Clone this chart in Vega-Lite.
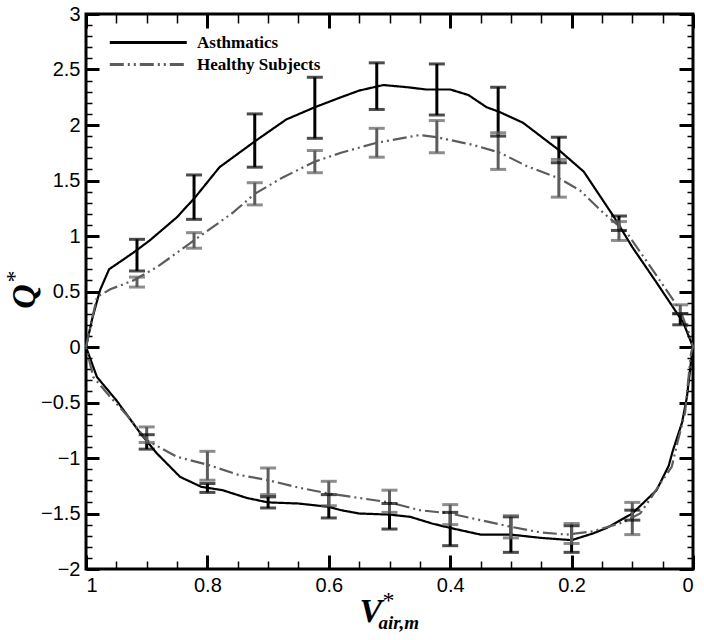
{
  "$schema": "https://vega.github.io/schema/vega-lite/v6.json",
  "autosize": "none",
  "width": 607,
  "height": 555,
  "padding": {"left": 86, "top": 14, "right": 11, "bottom": 71},
  "background": "white",
  "config": {
    "view": {"stroke": "black", "strokeWidth": 3},
    "axis": {"domain": false, "grid": false, "tickColor": "black", "labelColor": "black", "labelFont": "Liberation Sans", "labelFontSize": 20, "labelFontWeight": "normal", "titleColor": "black"}
  },
  "datasets": {
    "curves": [
      {"group": "Asthmatics", "order": 1, "x": 1.0, "y": 0.0},
      {"group": "Asthmatics", "order": 2, "x": 0.99, "y": 0.25},
      {"group": "Asthmatics", "order": 3, "x": 0.977, "y": 0.51},
      {"group": "Asthmatics", "order": 4, "x": 0.962, "y": 0.70},
      {"group": "Asthmatics", "order": 5, "x": 0.922, "y": 0.85},
      {"group": "Asthmatics", "order": 6, "x": 0.895, "y": 0.96},
      {"group": "Asthmatics", "order": 7, "x": 0.85, "y": 1.17},
      {"group": "Asthmatics", "order": 8, "x": 0.82, "y": 1.35},
      {"group": "Asthmatics", "order": 9, "x": 0.78, "y": 1.62},
      {"group": "Asthmatics", "order": 10, "x": 0.72, "y": 1.86},
      {"group": "Asthmatics", "order": 11, "x": 0.67, "y": 2.05},
      {"group": "Asthmatics", "order": 12, "x": 0.623, "y": 2.16},
      {"group": "Asthmatics", "order": 13, "x": 0.58, "y": 2.25},
      {"group": "Asthmatics", "order": 14, "x": 0.55, "y": 2.31},
      {"group": "Asthmatics", "order": 15, "x": 0.51, "y": 2.36},
      {"group": "Asthmatics", "order": 16, "x": 0.47, "y": 2.34},
      {"group": "Asthmatics", "order": 17, "x": 0.44, "y": 2.32},
      {"group": "Asthmatics", "order": 18, "x": 0.40, "y": 2.32},
      {"group": "Asthmatics", "order": 19, "x": 0.37, "y": 2.27},
      {"group": "Asthmatics", "order": 20, "x": 0.34, "y": 2.16},
      {"group": "Asthmatics", "order": 21, "x": 0.32, "y": 2.12},
      {"group": "Asthmatics", "order": 22, "x": 0.28, "y": 2.02},
      {"group": "Asthmatics", "order": 23, "x": 0.22, "y": 1.77},
      {"group": "Asthmatics", "order": 24, "x": 0.18, "y": 1.58},
      {"group": "Asthmatics", "order": 25, "x": 0.13, "y": 1.17},
      {"group": "Asthmatics", "order": 26, "x": 0.10, "y": 0.90},
      {"group": "Asthmatics", "order": 27, "x": 0.06, "y": 0.58},
      {"group": "Asthmatics", "order": 28, "x": 0.016, "y": 0.22},
      {"group": "Asthmatics", "order": 29, "x": 0.0, "y": 0.0},
      {"group": "Asthmatics", "order": 30, "x": 0.003, "y": -0.12},
      {"group": "Asthmatics", "order": 31, "x": 0.01, "y": -0.45},
      {"group": "Asthmatics", "order": 32, "x": 0.018, "y": -0.68},
      {"group": "Asthmatics", "order": 33, "x": 0.033, "y": -0.93},
      {"group": "Asthmatics", "order": 34, "x": 0.04, "y": -1.07},
      {"group": "Asthmatics", "order": 35, "x": 0.06, "y": -1.29},
      {"group": "Asthmatics", "order": 36, "x": 0.10, "y": -1.50},
      {"group": "Asthmatics", "order": 37, "x": 0.142, "y": -1.63},
      {"group": "Asthmatics", "order": 38, "x": 0.165, "y": -1.68},
      {"group": "Asthmatics", "order": 39, "x": 0.20, "y": -1.74},
      {"group": "Asthmatics", "order": 40, "x": 0.25, "y": -1.72},
      {"group": "Asthmatics", "order": 41, "x": 0.30, "y": -1.69},
      {"group": "Asthmatics", "order": 42, "x": 0.35, "y": -1.69},
      {"group": "Asthmatics", "order": 43, "x": 0.40, "y": -1.63},
      {"group": "Asthmatics", "order": 44, "x": 0.43, "y": -1.59},
      {"group": "Asthmatics", "order": 45, "x": 0.466, "y": -1.53},
      {"group": "Asthmatics", "order": 46, "x": 0.50, "y": -1.51},
      {"group": "Asthmatics", "order": 47, "x": 0.55, "y": -1.50},
      {"group": "Asthmatics", "order": 48, "x": 0.58, "y": -1.47},
      {"group": "Asthmatics", "order": 49, "x": 0.60, "y": -1.44},
      {"group": "Asthmatics", "order": 50, "x": 0.65, "y": -1.41},
      {"group": "Asthmatics", "order": 51, "x": 0.70, "y": -1.40},
      {"group": "Asthmatics", "order": 52, "x": 0.735, "y": -1.36},
      {"group": "Asthmatics", "order": 53, "x": 0.775, "y": -1.29},
      {"group": "Asthmatics", "order": 54, "x": 0.81, "y": -1.26},
      {"group": "Asthmatics", "order": 55, "x": 0.845, "y": -1.17},
      {"group": "Asthmatics", "order": 56, "x": 0.883, "y": -0.96},
      {"group": "Asthmatics", "order": 57, "x": 0.91, "y": -0.78},
      {"group": "Asthmatics", "order": 58, "x": 0.95, "y": -0.48},
      {"group": "Asthmatics", "order": 59, "x": 0.982, "y": -0.27},
      {"group": "Asthmatics", "order": 60, "x": 1.0, "y": 0.0},
      {"group": "Healthy Subjects", "order": 1, "x": 1.0, "y": 0.0},
      {"group": "Healthy Subjects", "order": 2, "x": 0.99, "y": 0.25},
      {"group": "Healthy Subjects", "order": 3, "x": 0.982, "y": 0.45},
      {"group": "Healthy Subjects", "order": 4, "x": 0.96, "y": 0.52},
      {"group": "Healthy Subjects", "order": 5, "x": 0.922, "y": 0.60},
      {"group": "Healthy Subjects", "order": 6, "x": 0.883, "y": 0.72},
      {"group": "Healthy Subjects", "order": 7, "x": 0.85, "y": 0.85},
      {"group": "Healthy Subjects", "order": 8, "x": 0.817, "y": 0.98},
      {"group": "Healthy Subjects", "order": 9, "x": 0.758, "y": 1.21},
      {"group": "Healthy Subjects", "order": 10, "x": 0.722, "y": 1.38},
      {"group": "Healthy Subjects", "order": 11, "x": 0.675, "y": 1.53},
      {"group": "Healthy Subjects", "order": 12, "x": 0.623, "y": 1.67},
      {"group": "Healthy Subjects", "order": 13, "x": 0.58, "y": 1.75},
      {"group": "Healthy Subjects", "order": 14, "x": 0.521, "y": 1.84},
      {"group": "Healthy Subjects", "order": 15, "x": 0.45, "y": 1.91},
      {"group": "Healthy Subjects", "order": 16, "x": 0.422, "y": 1.89},
      {"group": "Healthy Subjects", "order": 17, "x": 0.362, "y": 1.82},
      {"group": "Healthy Subjects", "order": 18, "x": 0.318, "y": 1.75},
      {"group": "Healthy Subjects", "order": 19, "x": 0.274, "y": 1.63},
      {"group": "Healthy Subjects", "order": 20, "x": 0.221, "y": 1.52},
      {"group": "Healthy Subjects", "order": 21, "x": 0.186, "y": 1.41},
      {"group": "Healthy Subjects", "order": 22, "x": 0.148, "y": 1.21},
      {"group": "Healthy Subjects", "order": 23, "x": 0.109, "y": 1.03},
      {"group": "Healthy Subjects", "order": 24, "x": 0.066, "y": 0.69},
      {"group": "Healthy Subjects", "order": 25, "x": 0.021, "y": 0.33},
      {"group": "Healthy Subjects", "order": 26, "x": 0.005, "y": 0.10},
      {"group": "Healthy Subjects", "order": 27, "x": 0.0, "y": 0.0},
      {"group": "Healthy Subjects", "order": 28, "x": 0.003, "y": -0.05},
      {"group": "Healthy Subjects", "order": 29, "x": 0.01, "y": -0.41},
      {"group": "Healthy Subjects", "order": 30, "x": 0.013, "y": -0.59},
      {"group": "Healthy Subjects", "order": 31, "x": 0.026, "y": -0.87},
      {"group": "Healthy Subjects", "order": 32, "x": 0.035, "y": -1.08},
      {"group": "Healthy Subjects", "order": 33, "x": 0.054, "y": -1.23},
      {"group": "Healthy Subjects", "order": 34, "x": 0.068, "y": -1.35},
      {"group": "Healthy Subjects", "order": 35, "x": 0.087, "y": -1.50},
      {"group": "Healthy Subjects", "order": 36, "x": 0.115, "y": -1.58},
      {"group": "Healthy Subjects", "order": 37, "x": 0.165, "y": -1.66},
      {"group": "Healthy Subjects", "order": 38, "x": 0.208, "y": -1.69},
      {"group": "Healthy Subjects", "order": 39, "x": 0.252, "y": -1.67},
      {"group": "Healthy Subjects", "order": 40, "x": 0.30, "y": -1.62},
      {"group": "Healthy Subjects", "order": 41, "x": 0.35, "y": -1.56},
      {"group": "Healthy Subjects", "order": 42, "x": 0.40, "y": -1.50},
      {"group": "Healthy Subjects", "order": 43, "x": 0.45, "y": -1.47},
      {"group": "Healthy Subjects", "order": 44, "x": 0.50, "y": -1.40},
      {"group": "Healthy Subjects", "order": 45, "x": 0.55, "y": -1.36},
      {"group": "Healthy Subjects", "order": 46, "x": 0.60, "y": -1.32},
      {"group": "Healthy Subjects", "order": 47, "x": 0.647, "y": -1.27},
      {"group": "Healthy Subjects", "order": 48, "x": 0.70, "y": -1.20},
      {"group": "Healthy Subjects", "order": 49, "x": 0.75, "y": -1.15},
      {"group": "Healthy Subjects", "order": 50, "x": 0.80, "y": -1.06},
      {"group": "Healthy Subjects", "order": 51, "x": 0.85, "y": -0.99},
      {"group": "Healthy Subjects", "order": 52, "x": 0.90, "y": -0.84},
      {"group": "Healthy Subjects", "order": 53, "x": 0.93, "y": -0.63},
      {"group": "Healthy Subjects", "order": 54, "x": 0.96, "y": -0.45},
      {"group": "Healthy Subjects", "order": 55, "x": 0.988, "y": -0.27},
      {"group": "Healthy Subjects", "order": 56, "x": 1.0, "y": 0.0}
    ],
    "bars": [
      {"group": "Asthmatics", "x": 0.916, "lo": 0.685, "hi": 0.97},
      {"group": "Asthmatics", "x": 0.822, "lo": 1.15, "hi": 1.55},
      {"group": "Asthmatics", "x": 0.722, "lo": 1.62, "hi": 2.10},
      {"group": "Asthmatics", "x": 0.623, "lo": 1.88, "hi": 2.43},
      {"group": "Asthmatics", "x": 0.521, "lo": 2.14, "hi": 2.56},
      {"group": "Asthmatics", "x": 0.422, "lo": 2.09, "hi": 2.55},
      {"group": "Asthmatics", "x": 0.321, "lo": 1.90, "hi": 2.34},
      {"group": "Asthmatics", "x": 0.221, "lo": 1.66, "hi": 1.89},
      {"group": "Asthmatics", "x": 0.122, "lo": 1.05, "hi": 1.18},
      {"group": "Asthmatics", "x": 0.021, "lo": 0.20, "hi": 0.30},
      {"group": "Asthmatics", "x": 0.9, "lo": -0.92, "hi": -0.79},
      {"group": "Asthmatics", "x": 0.8, "lo": -1.31, "hi": -1.23},
      {"group": "Asthmatics", "x": 0.7, "lo": -1.45, "hi": -1.35},
      {"group": "Asthmatics", "x": 0.6, "lo": -1.54, "hi": -1.33},
      {"group": "Asthmatics", "x": 0.5, "lo": -1.64, "hi": -1.41},
      {"group": "Asthmatics", "x": 0.4, "lo": -1.79, "hi": -1.49},
      {"group": "Asthmatics", "x": 0.3, "lo": -1.85, "hi": -1.53},
      {"group": "Asthmatics", "x": 0.2, "lo": -1.85, "hi": -1.61},
      {"group": "Asthmatics", "x": 0.1, "lo": -1.56, "hi": -1.47},
      {"group": "Healthy Subjects", "x": 0.916, "lo": 0.54, "hi": 0.63},
      {"group": "Healthy Subjects", "x": 0.822, "lo": 0.89, "hi": 1.03},
      {"group": "Healthy Subjects", "x": 0.722, "lo": 1.28, "hi": 1.48},
      {"group": "Healthy Subjects", "x": 0.623, "lo": 1.57, "hi": 1.77},
      {"group": "Healthy Subjects", "x": 0.521, "lo": 1.71, "hi": 1.97},
      {"group": "Healthy Subjects", "x": 0.422, "lo": 1.75, "hi": 2.04},
      {"group": "Healthy Subjects", "x": 0.321, "lo": 1.60, "hi": 1.93},
      {"group": "Healthy Subjects", "x": 0.221, "lo": 1.35, "hi": 1.69},
      {"group": "Healthy Subjects", "x": 0.122, "lo": 0.96, "hi": 1.13},
      {"group": "Healthy Subjects", "x": 0.021, "lo": 0.30, "hi": 0.38},
      {"group": "Healthy Subjects", "x": 0.9, "lo": -0.86, "hi": -0.72},
      {"group": "Healthy Subjects", "x": 0.8, "lo": -1.20, "hi": -0.94},
      {"group": "Healthy Subjects", "x": 0.7, "lo": -1.33, "hi": -1.09},
      {"group": "Healthy Subjects", "x": 0.6, "lo": -1.43, "hi": -1.21},
      {"group": "Healthy Subjects", "x": 0.5, "lo": -1.49, "hi": -1.29},
      {"group": "Healthy Subjects", "x": 0.4, "lo": -1.60, "hi": -1.42},
      {"group": "Healthy Subjects", "x": 0.3, "lo": -1.72, "hi": -1.52},
      {"group": "Healthy Subjects", "x": 0.2, "lo": -1.77, "hi": -1.59},
      {"group": "Healthy Subjects", "x": 0.1, "lo": -1.69, "hi": -1.40}
    ]
  },
  "resolve": {"axis": {"x": "independent", "y": "independent"}},
  "layer": [
    {
      "data": {"name": "curves"},
      "mark": {"type": "line", "strokeWidth": 2.2, "interpolate": "linear"},
      "encoding": {
        "x": {"field": "x", "type": "quantitative", "scale": {"domain": [0, 1], "reverse": true, "nice": false, "zero": false},
          "axis": {"orient": "bottom", "values": [0, 0.2, 0.4, 0.6, 0.8, 1], "tickSize": -14, "tickWidth": 3, "labelPadding": 20, "format": "~g",
            "title": "V", "titleFont": "Liberation Serif", "titleFontWeight": "bold", "titleFontStyle": "italic", "titleFontSize": 34,
            "titleAlign": "left", "titleBaseline": "alphabetic", "titleAnchor": "start", "titleX": 273, "titleY": 52}},
        "y": {"field": "y", "type": "quantitative", "scale": {"domain": [-2, 3], "nice": false, "zero": false},
          "axis": {"orient": "left", "values": [-2, -1.5, -1, -0.5, 0, 0.5, 1, 1.5, 2, 2.5, 3], "tickSize": -13, "tickWidth": 3, "labelPadding": 19, "format": "~g",
            "title": "Q", "titleFont": "Liberation Serif", "titleFontWeight": "bold", "titleFontStyle": "italic", "titleFontSize": 34,
            "titleAngle": -90, "titleAlign": "center", "titleBaseline": "alphabetic", "titleX": -52, "titleY": 282}},
        "order": {"field": "order", "type": "quantitative"},
        "color": {"field": "group", "type": "nominal", "scale": {"domain": ["Asthmatics", "Healthy Subjects"], "range": ["#000000", "#5c5c5c"]},
          "legend": {"title": null, "orient": "none", "legendX": 22, "legendY": 19, "padding": 0, "symbolType": "M-1,0H9", "symbolSize": 237, "symbolStrokeWidth": 3,
            "labelFont": "Liberation Serif", "labelFontWeight": "bold", "labelFontSize": 17, "labelColor": "black", "labelOffset": 70, "rowPadding": 4}},
        "strokeDash": {"field": "group", "type": "nominal", "scale": {"domain": ["Asthmatics", "Healthy Subjects"], "range": [[1, 0], [14, 4, 2, 4, 2, 4]]},
          "legend": {"title": null}}
      }
    },
    {
      "data": {"name": "bars"},
      "mark": {"type": "rule", "strokeWidth": 3},
      "encoding": {
        "x": {"field": "x", "type": "quantitative", "axis": null},
        "y": {"field": "lo", "type": "quantitative", "axis": null},
        "y2": {"field": "hi"},
        "color": {"field": "group", "type": "nominal", "legend": null}
      }
    },
    {
      "data": {"name": "bars"},
      "mark": {"type": "tick", "orient": "horizontal", "size": 16, "thickness": 3},
      "encoding": {
        "x": {"field": "x", "type": "quantitative", "axis": null},
        "y": {"field": "lo", "type": "quantitative", "axis": null},
        "color": {"field": "group", "type": "nominal", "legend": null}
      }
    },
    {
      "data": {"name": "bars"},
      "mark": {"type": "tick", "orient": "horizontal", "size": 16, "thickness": 3},
      "encoding": {
        "x": {"field": "x", "type": "quantitative", "axis": null},
        "y": {"field": "hi", "type": "quantitative", "axis": null},
        "color": {"field": "group", "type": "nominal", "legend": null}
      }
    },
    {
      "data": {"name": "curves"},
      "mark": {"type": "point", "opacity": 0},
      "encoding": {
        "x": {"field": "x", "type": "quantitative", "axis": {"orient": "top", "values": [0, 0.2, 0.4, 0.6, 0.8, 1], "tickSize": -14, "tickWidth": 3, "labels": false,
          "title": "*", "titleFont": "Liberation Serif", "titleFontWeight": "normal", "titleFontSize": 24, "titleAngle": 0,
          "titleAlign": "center", "titleBaseline": "middle", "titleAnchor": "start", "titleX": 302, "titleY": 586}},
        "y": {"field": "y", "type": "quantitative", "axis": {"orient": "right", "values": [-2, -1.5, -1, -0.5, 0, 0.5, 1, 1.5, 2, 2.5, 3], "tickSize": -14, "tickWidth": 3, "labels": false,
          "title": "*", "titleFont": "Liberation Serif", "titleFontWeight": "normal", "titleFontSize": 24, "titleAngle": -90,
          "titleAlign": "center", "titleBaseline": "middle", "titleAnchor": "start", "titleX": -679, "titleY": 262}}
      }
    },
    {
      "data": {"name": "curves"},
      "mark": {"type": "point", "opacity": 0},
      "encoding": {
        "x": {"field": "x", "type": "quantitative", "axis": {"orient": "bottom", "values": [0.05, 0.1, 0.15, 0.25, 0.3, 0.35, 0.45, 0.5, 0.55, 0.65, 0.7, 0.75, 0.85, 0.9, 0.95], "tickSize": -8, "tickWidth": 1.5, "labels": false,
          "title": "air,m", "titleFont": "Liberation Serif", "titleFontWeight": "bold", "titleFontStyle": "italic", "titleFontSize": 19,
          "titleAlign": "left", "titleBaseline": "alphabetic", "titleAnchor": "start", "titleX": 292, "titleY": 59}},
        "y": {"field": "y", "type": "quantitative", "axis": {"orient": "left", "values": [-1.9, -1.8, -1.7, -1.6, -1.4, -1.3, -1.2, -1.1, -0.9, -0.8, -0.7, -0.6, -0.4, -0.3, -0.2, -0.1, 0.1, 0.2, 0.3, 0.4, 0.6, 0.7, 0.8, 0.9, 1.1, 1.2, 1.3, 1.4, 1.6, 1.7, 1.8, 1.9, 2.1, 2.2, 2.3, 2.4, 2.6, 2.7, 2.8, 2.9], "tickSize": -6, "tickWidth": 1.5, "labels": false, "title": null}}
      }
    },
    {
      "data": {"name": "curves"},
      "mark": {"type": "point", "opacity": 0},
      "encoding": {
        "x": {"field": "x", "type": "quantitative", "axis": {"orient": "top", "values": [0.05, 0.1, 0.15, 0.25, 0.3, 0.35, 0.45, 0.5, 0.55, 0.65, 0.7, 0.75, 0.85, 0.9, 0.95], "tickSize": -9, "tickWidth": 1.5, "labels": false, "title": null}},
        "y": {"field": "y", "type": "quantitative", "axis": {"orient": "right", "values": [-1.9, -1.8, -1.7, -1.6, -1.4, -1.3, -1.2, -1.1, -0.9, -0.8, -0.7, -0.6, -0.4, -0.3, -0.2, -0.1, 0.1, 0.2, 0.3, 0.4, 0.6, 0.7, 0.8, 0.9, 1.1, 1.2, 1.3, 1.4, 1.6, 1.7, 1.8, 1.9, 2.1, 2.2, 2.3, 2.4, 2.6, 2.7, 2.8, 2.9], "tickSize": -6, "tickWidth": 1.5, "labels": false, "title": null}}
      }
    }
  ]
}
